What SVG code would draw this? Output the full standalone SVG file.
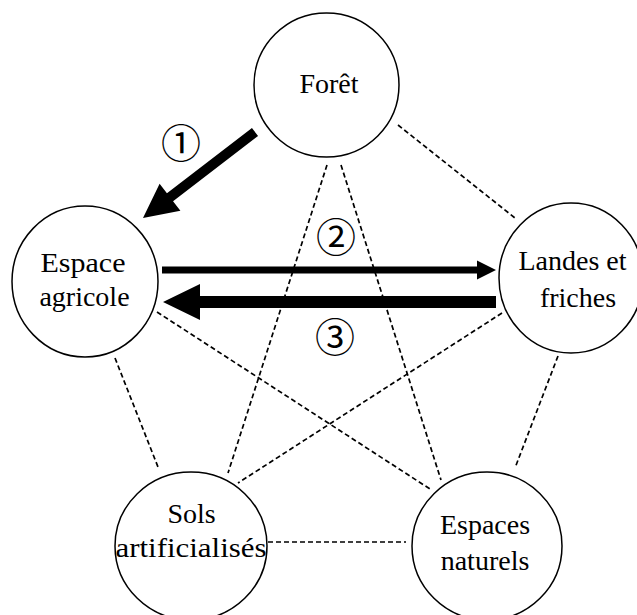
<svg xmlns="http://www.w3.org/2000/svg" width="637" height="615" viewBox="0 0 637 615">
<defs>
<style>
ellipse.c{fill:#fff;stroke:#000;stroke-width:1.5}
line.d{stroke:#000;stroke-width:1.7;stroke-dasharray:5 3;fill:none}
text.t{font-family:"Liberation Serif","Times New Roman",serif;font-size:28px;text-anchor:middle;fill:#000}
text.n{font-family:"Noto Sans CJK JP","DejaVu Sans",sans-serif;font-size:40px;text-anchor:middle;fill:#000}
</style>
</defs>
<rect width="637" height="615" fill="#fff"/>
<g id="connectors">
<line class="d" x1="398" y1="125" x2="515" y2="218"/>
<line class="d" x1="327" y1="165" x2="228" y2="473"/>
<line class="d" x1="341" y1="165" x2="441" y2="480"/>
<line class="d" x1="157" y1="312" x2="430" y2="489"/>
<line class="d" x1="502" y1="313" x2="238" y2="483"/>
<line class="d" x1="115" y1="358" x2="158" y2="467"/>
<line class="d" x1="558" y1="356" x2="515" y2="468"/>
<line class="d" x1="268" y1="542" x2="406" y2="542"/>
<polygon id="arrow1" points="251.95,128.03 166.95,193.3 159.6,183.8 143,218 180.4,210.8 173.05,201.3 258.05,135.97" fill="#000"/>
<polygon id="arrow2" points="162,266.5 477,266.5 477,260.5 496,270 477,279.5 477,273.5 162,273.5" fill="#000"/>
<polygon id="arrow3" points="496,296 200,296 200,284 163,302 200,320 200,308 496,308" fill="#000"/>
</g>
<g id="foret"><ellipse class="c" cx="326.5" cy="85" rx="72.5" ry="72"/><text class="t" x="329" y="93">Forêt</text></g>
<g id="agricole"><ellipse class="c" cx="85" cy="281.5" rx="73" ry="75.5"/><text class="t" x="83" y="272" textLength="85" lengthAdjust="spacingAndGlyphs">Espace</text><text class="t" x="84.5" y="306">agricole</text></g>
<g id="landes"><ellipse class="c" cx="571" cy="278" rx="72" ry="75"/><text class="t" x="572.5" y="270">Landes et</text><text class="t" x="578" y="307">friches</text></g>
<g id="sols"><ellipse class="c" cx="191" cy="546" rx="76" ry="74"/><text class="t" x="191.5" y="523">Sols</text><text class="t" x="191" y="557" textLength="151" lengthAdjust="spacingAndGlyphs">artificialisés</text></g>
<g id="naturels"><ellipse class="c" cx="487" cy="546" rx="75" ry="74"/><text class="t" x="485" y="534">Espaces</text><text class="t" x="485" y="570">naturels</text></g>
<g id="labels">
<text class="n" x="181" y="158">①</text>
<text class="n" x="336" y="252">②</text>
<text class="n" x="335" y="352">③</text>
</g>
</svg>
